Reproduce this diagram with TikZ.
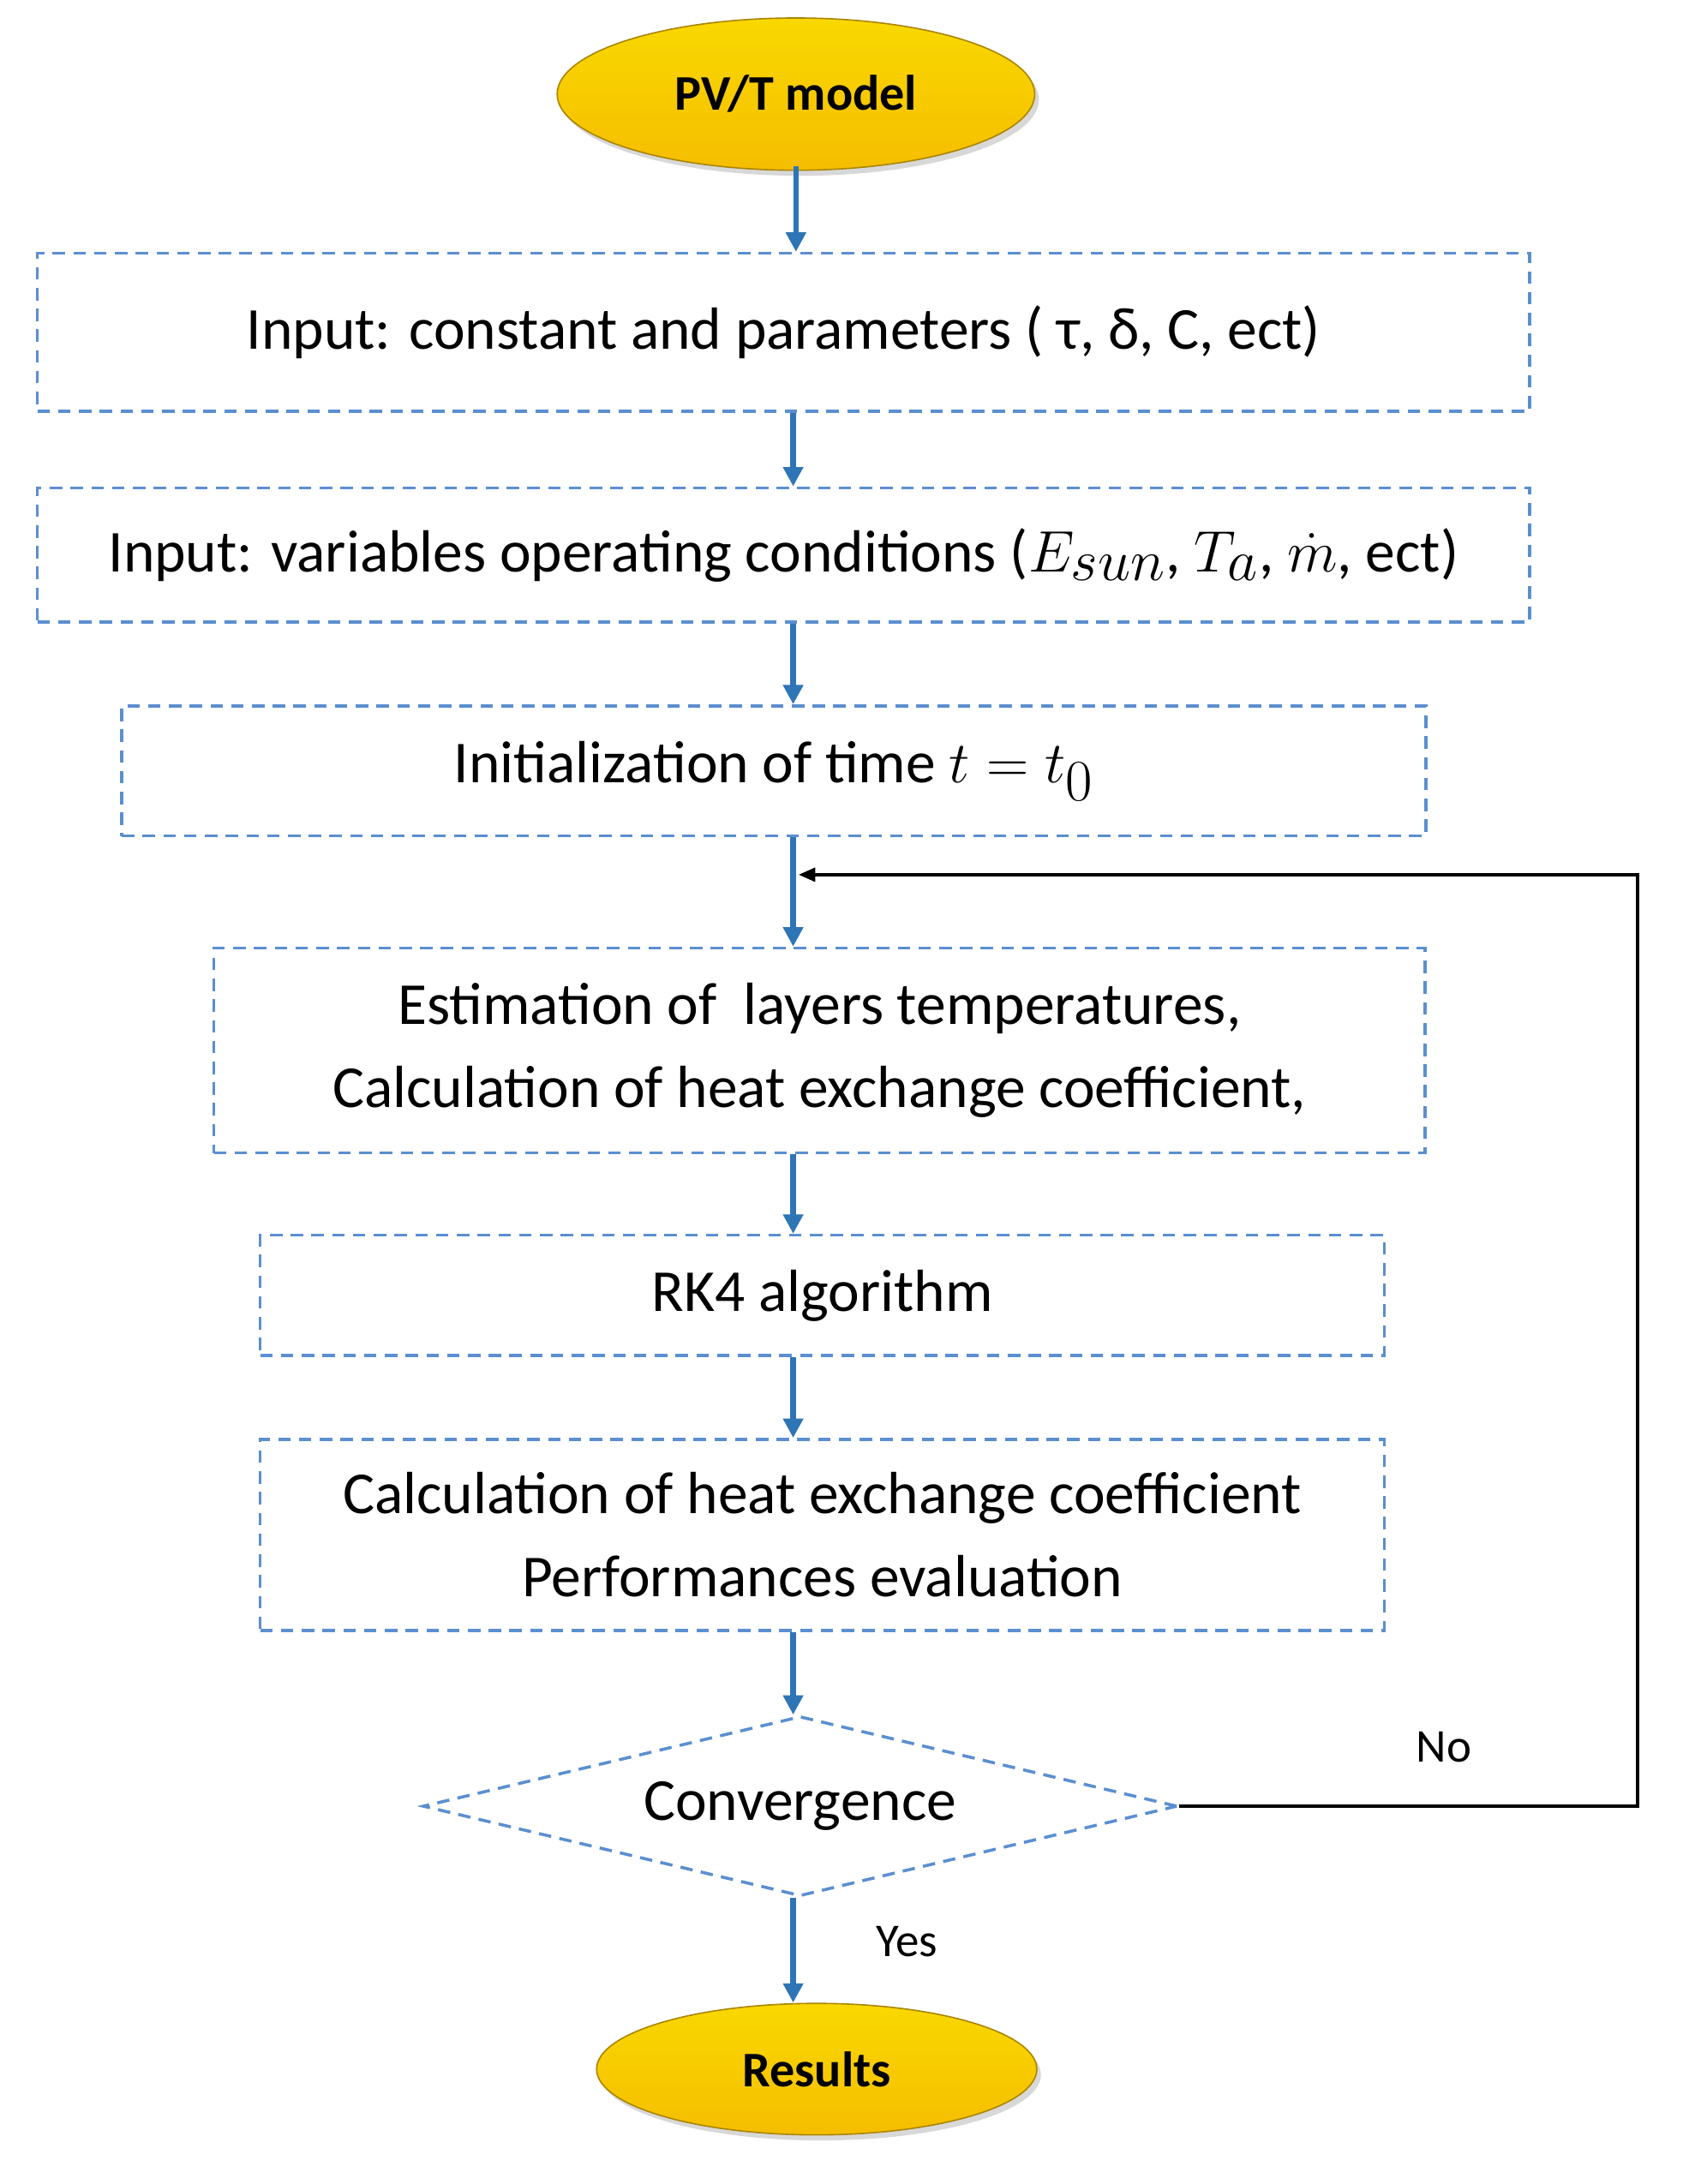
\documentclass[tikz,border=0pt]{standalone}
\usepackage{graphicx}
\usepackage{fontspec}
\setmainfont{Carlito}
\usetikzlibrary{shapes.geometric,arrows.meta,shadows}
\newcommand{\mth}[1]{\scalebox{1.7}{$#1$}}
\definecolor{dblue}{HTML}{5B8FD0}
\definecolor{ablue}{HTML}{2E75B6}
\definecolor{gold}{HTML}{F5BE00}
\begin{document}
\begin{tikzpicture}[x=1pt,y=-1pt,
  box/.style={draw=dblue,dashed,line width=2.2pt,dash pattern=on 9pt off 6pt,minimum width=#1,inner sep=0pt,align=center,font=\fontsize{43}{60}\selectfont},
  term/.style={ellipse,draw=gold!70!black,line width=1pt,top color=gold!60!yellow,bottom color=gold,shading angle=0,font=\fontsize{36}{40}\selectfont\bfseries,drop shadow={shadow xshift=3pt,shadow yshift=-4pt,fill=gray!60}},
  arr/.style={-{Triangle[length=14pt,width=14pt]},ablue,line width=4pt},
  lbl/.style={font=\fontsize{34}{36}\selectfont}]
\useasboundingbox (0,0) rectangle (1220,1578);
\node[term,minimum width=345,minimum height=110] (s) at (575,68) {PV/T model};
\node[box=1078,minimum height=114] (b1) at (566,240) {Input: constant and parameters ( τ, δ, C, ect)};
\node[box=1078,minimum height=97] (b2) at (566,401) {Input: variables operating conditions (\mth{E_{sun}}, \mth{T_a}, \mth{\dot m}, ect)};
\node[box=942,minimum height=94] (b3) at (559,557) {Initialization of time \mth{t=t_0}};
\node[box=875,minimum height=148] (b4) at (592,759) {Estimation of \ layers temperatures,\\Calculation of heat exchange coefficient,};
\node[box=812,minimum height=87] (b5) at (594,936) {RK4 algorithm};
\node[box=812,minimum height=138] (b6) at (594,1109) {Calculation of heat exchange coefficient\\Performances evaluation};
\node[diamond,draw=dblue,dashed,line width=2.2pt,dash pattern=on 9pt off 6pt,minimum width=545,minimum height=130,inner sep=0pt,aspect=4.2,font=\fontsize{43}{48}\selectfont] (d) at (578,1305) {Convergence};
\node[term,minimum width=318,minimum height=95] (r) at (590,1495) {Results};
\draw[arr] (575,120) -- (b1.north -| 575,0);
\draw[arr] (b1.south -| 573,0) -- (b2.north -| 573,0);
\draw[arr] (b2.south -| 573,0) -- (b3.north -| 573,0);
\draw[arr] (b3.south -| 573,0) -- (b4.north -| 573,0);
\draw[arr] (b4.south -| 573,0) -- (b5.north -| 573,0);
\draw[arr] (b5.south -| 573,0) -- (b6.north -| 573,0);
\draw[arr] (b6.south -| 573,0) -- (d.north -| 573,0);
\coordinate (c1) at (1183,1305);
\coordinate (c2) at (1183,632);
\coordinate (c3) at (577,632);
\draw[arr] (d.south -| 573,0) -- (573,1447);
\draw[black,line width=2pt,-{Triangle[length=12pt,width=10pt]}] (d.east) -- (c1) -- (c2) -- (c3);
\node[lbl] (no) at (1043,1262) {No};
\node[lbl] (yes) at (655,1403) {Yes};
\end{tikzpicture}
\end{document}
